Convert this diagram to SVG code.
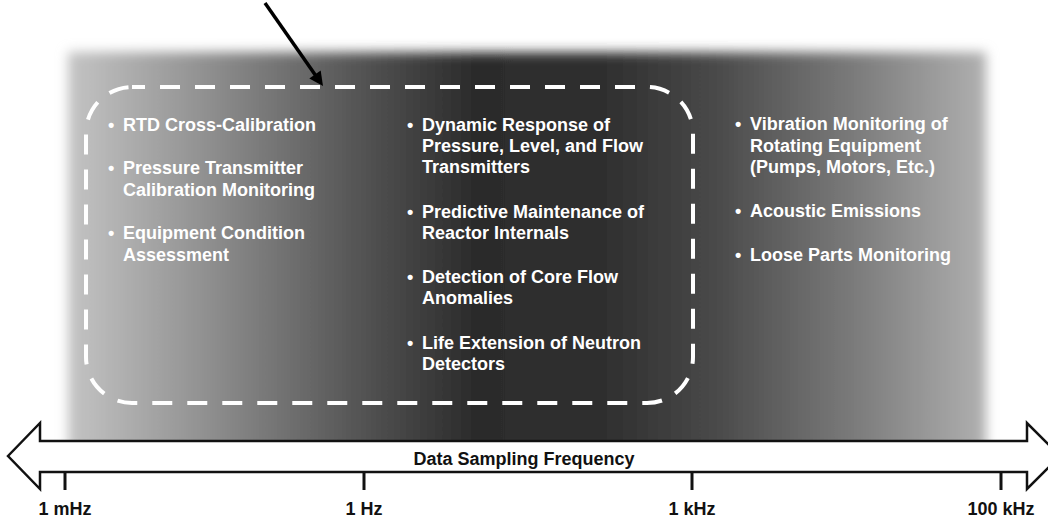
<svg xmlns="http://www.w3.org/2000/svg" width="1048" height="520" viewBox="0 0 1048 520">
  <defs>
    <linearGradient id="bandGrad" gradientUnits="userSpaceOnUse" x1="68" y1="0" x2="986" y2="0">
      <stop offset="0" stop-color="#c4c4c4"/>
      <stop offset="0.15" stop-color="#909090"/>
      <stop offset="0.30" stop-color="#5a5a5a"/>
      <stop offset="0.44" stop-color="#2c2c2c"/>
      <stop offset="0.58" stop-color="#2e2e2e"/>
      <stop offset="0.70" stop-color="#484848"/>
      <stop offset="0.86" stop-color="#7c7c7c"/>
      <stop offset="1" stop-color="#b0b0b0"/>
    </linearGradient>
    <filter id="soft" x="-5%" y="-8%" width="110%" height="116%">
      <feGaussianBlur stdDeviation="6"/>
    </filter>
    <style>
      .item { font-family: "Liberation Sans", Arial, sans-serif; font-weight: bold; font-size: 18px; fill: #ffffff; }
      .axis { font-family: "Liberation Sans", Arial, sans-serif; font-weight: bold; font-size: 18px; fill: #111111; text-anchor: middle; }
      .tick { stroke: #111111; stroke-width: 3; }
    </style>
  </defs>

  <g id="background-band">
    <rect x="68" y="52" width="918" height="400" fill="url(#bandGrad)" filter="url(#soft)"/>
  </g>

  <g id="range-box">
    <rect x="86" y="87" width="607" height="316" rx="46" ry="46" fill="none" stroke="#ffffff" stroke-width="4" stroke-dasharray="20 15" stroke-dashoffset="7"/>
  </g>

  <g id="low-frequency-items">
    <text class="item" x="108" y="131">•</text>
    <text class="item" x="123" y="131">RTD Cross-Calibration</text>
    <text class="item" x="108" y="174">•</text>
    <text class="item" x="123" y="174">Pressure Transmitter</text>
    <text class="item" x="123" y="196">Calibration Monitoring</text>
    <text class="item" x="108" y="239">•</text>
    <text class="item" x="123" y="239">Equipment Condition</text>
    <text class="item" x="123" y="261">Assessment</text>
  </g>

  <g id="mid-frequency-items">
    <text class="item" x="407" y="131">•</text>
    <text class="item" x="422" y="131">Dynamic Response of</text>
    <text class="item" x="422" y="152">Pressure, Level, and Flow</text>
    <text class="item" x="422" y="173">Transmitters</text>
    <text class="item" x="407" y="218">•</text>
    <text class="item" x="422" y="218">Predictive Maintenance of</text>
    <text class="item" x="422" y="239">Reactor Internals</text>
    <text class="item" x="407" y="283">•</text>
    <text class="item" x="422" y="283">Detection of Core Flow</text>
    <text class="item" x="422" y="304">Anomalies</text>
    <text class="item" x="407" y="349">•</text>
    <text class="item" x="422" y="349">Life Extension of Neutron</text>
    <text class="item" x="422" y="370">Detectors</text>
  </g>

  <g id="high-frequency-items">
    <text class="item" x="735" y="130">•</text>
    <text class="item" x="750" y="130">Vibration Monitoring of</text>
    <text class="item" x="750" y="152">Rotating Equipment</text>
    <text class="item" x="750" y="173">(Pumps, Motors, Etc.)</text>
    <text class="item" x="735" y="217">•</text>
    <text class="item" x="750" y="217">Acoustic Emissions</text>
    <text class="item" x="735" y="261">•</text>
    <text class="item" x="750" y="261">Loose Parts Monitoring</text>
  </g>

  <g id="frequency-axis">
    <path d="M 8 456 L 40 423 L 40 441 L 1027 441 L 1027 423 L 1060 456 L 1027 489 L 1027 472 L 40 472 L 40 489 Z" fill="#ffffff" stroke="#111111" stroke-width="2.5" stroke-linejoin="miter"/>
    <text class="axis" x="524" y="465">Data Sampling Frequency</text>
    <line class="tick" x1="65" y1="472" x2="65" y2="490"/>
    <line class="tick" x1="364" y1="472" x2="364" y2="490"/>
    <line class="tick" x1="692" y1="472" x2="692" y2="490"/>
    <line class="tick" x1="1001" y1="472" x2="1001" y2="490"/>
    <text class="axis" x="65" y="515">1 mHz</text>
    <text class="axis" x="364" y="515">1 Hz</text>
    <text class="axis" x="692" y="515">1 kHz</text>
    <text class="axis" x="1001" y="515">100 kHz</text>
  </g>

  <g id="connectors">
    <g id="pointer-arrow">
      <line x1="265" y1="3" x2="316" y2="76" stroke="#000000" stroke-width="3.5"/>
      <polygon points="323,86 309.3,78.5 320.7,70.5" fill="#000000"/>
    </g>
  </g>
</svg>
